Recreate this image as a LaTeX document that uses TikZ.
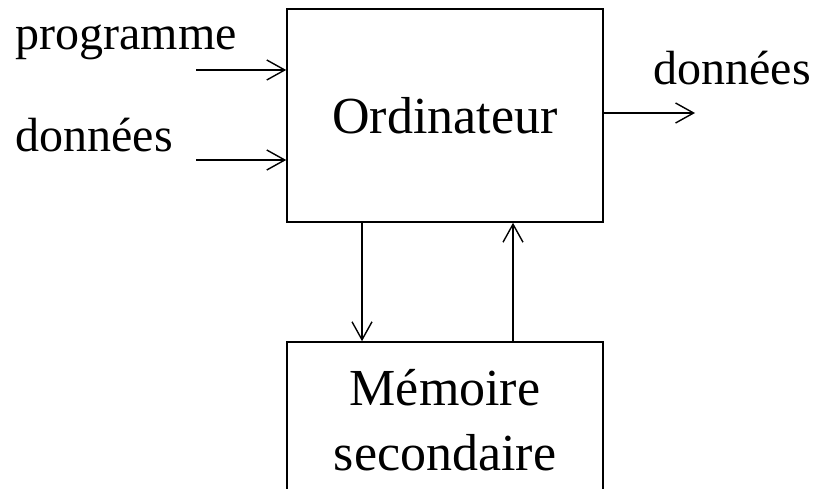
\documentclass[tikz,border=0pt]{standalone}
\usepackage{fontspec}
\setmainfont{Liberation Serif}
\usetikzlibrary{arrows.meta}
\tikzset{
  bloc/.style={draw, line width=0.8pt, minimum width=158pt, align=center, font=\fontsize{26}{32.5}\selectfont},
  fleche/.style={line width=0.7pt, -{Straight Barb[length=9pt,width=10pt,line width=0.7pt]}},
  etiq/.style={anchor=base west, inner sep=0pt, font=\fontsize{24}{28}\selectfont}
}
\begin{document}
\begin{tikzpicture}[x=0.5pt,y=0.5pt]
 \useasboundingbox (0,0) rectangle (814,488);
 \clip (0,0) rectangle (814,488);
 \node[bloc, minimum height=106.5pt] (ord) at (445,372.5) {Ordinateur};
 \node[bloc, minimum height=78pt] (mem) at (445,68) {M\'emoire\\secondaire};
 \node[etiq] (prog) at (15,438) {programme};
 \node[etiq] (din) at (15,336) {donn\'ees};
 \node[etiq] (dout) at (653,403) {donn\'ees};
 \coordinate (a) at (196,418);
 \coordinate (b) at (196,328);
 \coordinate (c) at (695,375);
 \coordinate (d) at (362,0);
 \coordinate (u) at (513,0);
 \draw[fleche] (a) -- (a -| ord.west);
 \draw[fleche] (b) -- (b -| ord.west);
 \draw[fleche] (c -| ord.east) -- (c);
 \draw[fleche] (d |- ord.south) -- (d |- mem.north);
 \draw[fleche] (u |- mem.north) -- (u |- ord.south);
\end{tikzpicture}
\end{document}
